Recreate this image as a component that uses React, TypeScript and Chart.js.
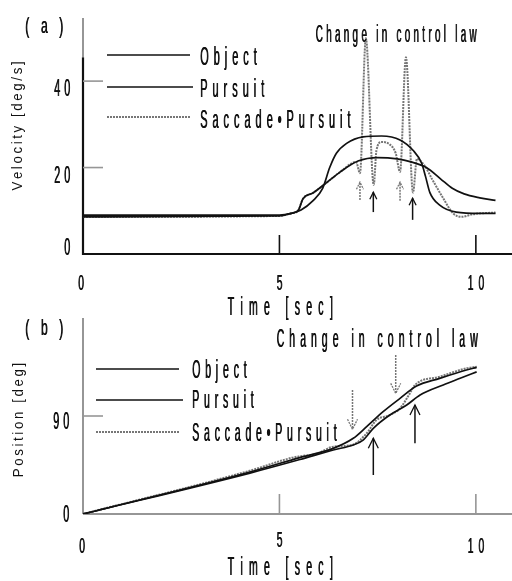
import React, { useEffect, useRef } from 'react';
import { Chart, registerables } from 'chart.js';
Chart.register(...registerables);

const FONT = '"Liberation Sans", Arial, sans-serif';

// ---------- Panel (a): velocity [deg/s] ----------
const velObjectT = [0, 5.0, 5.3, 5.55, 5.85, 6.1, 6.28, 6.45, 6.71, 7.13, 7.6, 8.07, 8.4, 8.62, 8.72, 8.83, 9.08, 9.5, 10.1, 10.5];
const velObjectV = [9.0, 9.0, 9.4, 10.2, 12.3, 15.2, 20.0, 23.3, 25.6, 27.1, 27.3, 26.4, 24.0, 21.0, 17.9, 14.2, 11.3, 9.7, 9.4, 9.4];

const velPursuitT = [0, 5.0, 5.3, 5.48, 5.6, 5.85, 6.2, 6.55, 7.0, 7.5, 8.0, 8.35, 8.74, 9.1, 9.4, 9.7, 10.1, 10.5];
const velPursuitV = [8.6, 8.8, 9.4, 10.1, 12.8, 14.1, 16.5, 19.0, 21.5, 22.3, 22.0, 21.3, 20.0, 17.4, 15.2, 13.9, 13.0, 12.4];

const velSaccadeT = [0, 5.0, 5.3, 5.48, 5.6, 5.85, 6.2, 6.55, 6.95, 7.05, 7.2, 7.4, 7.47, 7.6, 7.8, 7.96, 8.07, 8.22, 8.4, 8.5, 8.69, 8.9, 9.15, 9.42, 9.64, 9.92, 10.5];
const velSaccadeV = [8.6, 8.8, 9.4, 10.1, 12.8, 14.1, 16.5, 19.0, 21.3, 18.7, 49.9, 16.0, 24.0, 25.9, 25.4, 23.3, 19.0, 45.5, 14.2, 22.0, 20.5, 17.1, 13.2, 9.4, 8.6, 9.2, 9.6];

const velTicksX = [0, 5, 10];
const velTicksY = [0, 20, 40];
const velRangeX = [0, 10.92];
const velRangeY = [0, 54.6];
const velAxisSolidTop = 45.5;

const velArrowX = [7.05, 8.07, 7.39, 8.39];
const velArrowFrom = [12.5, 12.3, 9.7, 7.9];
const velArrowTo = [16.6, 16.6, 14.3, 12.9];
const velArrowGray = [true, true, false, false];

// ---------- Panel (b): position [deg] ----------
const posObjectT = [0, 4.25, 5.52, 6.37, 6.88, 7.22, 7.64, 8.07, 8.49, 9.08, 9.76, 10.02];
const posObjectV = [0, 38.6, 51.8, 60.3, 69.5, 80.2, 94.0, 106.2, 117.5, 124.6, 132.2, 134.7];

const posPursuitT = [0, 4.25, 5.52, 6.37, 6.88, 7.13, 7.39, 7.81, 8.24, 8.58, 9.17, 9.6, 10.02];
const posPursuitV = [0, 37.6, 50.0, 58.8, 63.4, 67.9, 78.7, 90.9, 100.1, 109.3, 118.5, 124.6, 130.5];

const posSaccadeT = [0, 4.25, 5.3, 5.52, 5.95, 6.37, 6.85, 7.22, 7.47, 7.81, 8.07, 8.32, 8.45, 9.08, 9.76, 10.02];
const posSaccadeV = [0, 39.8, 51.5, 53.0, 55.3, 61.8, 63.4, 74.1, 86.3, 90.9, 97.0, 110.8, 118.5, 126.1, 133.8, 135.2];

const posTicksX = [0, 5, 10];
const posTicksY = [0, 90];
const posRangeX = [0, 10.92];
const posRangeY = [0, 180];

const posArrowX = [6.86, 7.96, 7.39, 8.45];
const posArrowFrom = [113.9, 146.0, 35.8, 64.9];
const posArrowTo = [77.8, 110.8, 69.5, 100.1];
const posArrowGray = [true, true, false, false];

const seriesNames = ['Object', 'Pursuit', 'Saccade•Pursuit'];
const annotationText = 'Change in control law';
const xTitle = 'Time [sec]';
const velYTitle = 'Velocity [deg/s]';
const posYTitle = 'Position [deg]';

const BLACK = '#111';
const GRAY = '#767676';
const AXGRAY = '#969696';

type TOpt = { size: number; sx: number; sp: number; align?: 'left' | 'center' | 'right'; color?: string; bold?: number };

function drawText(ctx: CanvasRenderingContext2D, text: string, x: number, y: number, o: TOpt) {
  ctx.save();
  ctx.font = `${o.size}px ${FONT}`;
  ctx.textBaseline = 'alphabetic';
  ctx.textAlign = 'left';
  const chars = Array.from(text);
  const widths = chars.map((c) => ctx.measureText(c).width * o.sx);
  const total = widths.reduce((a, b) => a + b, 0) + (chars.length - 1) * o.sp;
  let x0 = x;
  if (o.align === 'center') x0 = x - total / 2;
  else if (o.align === 'right') x0 = x - total;
  ctx.fillStyle = o.color || BLACK;
  const b = o.bold === undefined ? 0.5 : o.bold;
  let cur = x0;
  chars.forEach((c, i) => {
    ctx.save();
    ctx.translate(cur, y);
    ctx.scale(o.sx, 1);
    ctx.fillText(c, 0, 0);
    if (b > 0) ctx.fillText(c, b / o.sx, 0);
    ctx.restore();
    cur += widths[i] + o.sp;
  });
  ctx.restore();
}

function line(ctx: CanvasRenderingContext2D, x1: number, y1: number, x2: number, y2: number, color: string, w: number, dash: number[] = []) {
  ctx.save();
  ctx.strokeStyle = color;
  ctx.lineWidth = w;
  ctx.setLineDash(dash);
  ctx.beginPath();
  ctx.moveTo(x1, y1);
  ctx.lineTo(x2, y2);
  ctx.stroke();
  ctx.restore();
}

function arrow(ctx: CanvasRenderingContext2D, x: number, yTail: number, yHead: number, gray: boolean, hw: number, hl: number) {
  const color = gray ? GRAY : BLACK;
  const dash = gray ? [2, 1] : [];
  line(ctx, x, yTail, x, yHead, color, 1.5, dash);
  const dir = yHead > yTail ? -1 : 1;
  ctx.save();
  ctx.strokeStyle = color;
  ctx.lineWidth = 1.3;
  ctx.setLineDash(dash);
  ctx.beginPath();
  ctx.moveTo(x - hw, yHead + dir * hl);
  ctx.lineTo(x, yHead);
  ctx.lineTo(x + hw, yHead + dir * hl);
  ctx.stroke();
  ctx.restore();
}

const toXY = (t: number[], v: number[]) => t.map((x, i) => ({ x, y: v[i] }));

function datasets(oT: number[], oV: number[], pT: number[], pV: number[], sT: number[], sV: number[]) {
  const base = { pointRadius: 0, cubicInterpolationMode: 'monotone' as const, fill: false };
  return [
    { ...base, label: seriesNames[0], data: toXY(oT, oV), borderColor: BLACK, borderWidth: 1.7 },
    { ...base, label: seriesNames[1], data: toXY(pT, pV), borderColor: BLACK, borderWidth: 1.7 },
    { ...base, label: seriesNames[2], data: toXY(sT, sV), borderColor: GRAY, borderWidth: 2, borderDash: [2, 1] },
  ];
}

function velPlugin(off: number) {
  const G = (y: number) => y - off;
  return {
    id: 'velDecor',
    beforeDatasetsDraw(chart: any) {
      const ctx = chart.ctx as CanvasRenderingContext2D;
      const xs = chart.scales.x, ys = chart.scales.y;
      const x0 = xs.getPixelForValue(0);
      const y0 = ys.getPixelForValue(0);
      const yTop = ys.getPixelForValue(velRangeY[1]);
      const ySolid = ys.getPixelForValue(velAxisSolidTop);
      line(ctx, x0, yTop, x0, ySolid, AXGRAY, 2);
      line(ctx, x0, ySolid, x0, y0 + 1, BLACK, 2.2);
      line(ctx, x0, y0, chart.chartArea.right, y0, BLACK, 2);
      velTicksX.forEach((t) => {
        if (t === 0) return;
        const px = xs.getPixelForValue(t);
        line(ctx, px, y0, px, y0 - 19, BLACK, 1.6);
      });
      velTicksY.forEach((v) => {
        if (v === 0) return;
        const py = ys.getPixelForValue(v);
        line(ctx, x0, py, x0 + 20, py, AXGRAY, 1.6);
      });
    },
    afterDatasetsDraw(chart: any) {
      const ctx = chart.ctx as CanvasRenderingContext2D;
      const xs = chart.scales.x, ys = chart.scales.y;
      const y0 = ys.getPixelForValue(0);
      velTicksY.forEach((v) => {
        const py = ys.getPixelForValue(v);
        drawText(ctx, String(v), 70, v === 0 ? py + 1 : py + 15, { size: 23, sx: 0.47, sp: 4, align: 'right' });
      });
      velTicksX.forEach((t) => {
        const px = xs.getPixelForValue(t);
        drawText(ctx, String(t), t === 0 ? px - 2 : px, y0 + 36, { size: 22, sx: 0.47, sp: 5, align: 'center' });
      });
      drawText(ctx, xTitle, 280, G(315), { size: 25, sx: 0.42, sp: 6.3, align: 'center' });
      ctx.save();
      ctx.translate(22, G(126));
      ctx.rotate(-Math.PI / 2);
      drawText(ctx, velYTitle, 0, 0, { size: 14, sx: 0.95, sp: 2.6, align: 'center', bold: 0 });
      ctx.restore();
      drawText(ctx, '(a)', 25, G(33), { size: 22, sx: 0.55, sp: 11.6 });
      const lys = [55, 87, 117];
      const tys = [65, 97, 128];
      seriesNames.forEach((n, i) => {
        const gray = i === 2;
        line(ctx, 107, G(lys[i]), i === 1 ? 193 : 190, G(lys[i]), gray ? GRAY : BLACK, gray ? 2 : 1.6, gray ? [2, 1] : []);
        drawText(ctx, n, 200, G(tys[i]), { size: 26, sx: 0.42, sp: 5 });
      });
      drawText(ctx, annotationText, 396, G(42), { size: 23.5, sx: 0.42, sp: 3.3, align: 'center' });
      velArrowX.forEach((t, i) => {
        arrow(ctx, xs.getPixelForValue(t), ys.getPixelForValue(velArrowFrom[i]), ys.getPixelForValue(velArrowTo[i]), velArrowGray[i], 3.5, 7);
      });
    },
  };
}

function posPlugin(off: number) {
  const G = (y: number) => y - off;
  return {
    id: 'posDecor',
    beforeDatasetsDraw(chart: any) {
      const ctx = chart.ctx as CanvasRenderingContext2D;
      const xs = chart.scales.x, ys = chart.scales.y;
      const x0 = xs.getPixelForValue(0);
      const y0 = ys.getPixelForValue(0);
      const yTop = ys.getPixelForValue(posRangeY[1]);
      line(ctx, x0, yTop, x0, y0, AXGRAY, 2);
      line(ctx, x0, y0, chart.chartArea.right, y0, AXGRAY, 2);
      posTicksX.forEach((t) => {
        if (t === 0) return;
        const px = xs.getPixelForValue(t);
        line(ctx, px, y0, px, y0 - 20, AXGRAY, 1.6);
      });
      posTicksY.forEach((v) => {
        if (v === 0) return;
        const py = ys.getPixelForValue(v);
        line(ctx, x0, py, x0 + 20, py, AXGRAY, 1.6);
      });
    },
    afterDatasetsDraw(chart: any) {
      const ctx = chart.ctx as CanvasRenderingContext2D;
      const xs = chart.scales.x, ys = chart.scales.y;
      const y0 = ys.getPixelForValue(0);
      posTicksY.forEach((v) => {
        const py = ys.getPixelForValue(v);
        drawText(ctx, String(v), 69, v === 0 ? py + 8 : py + 13, { size: 23, sx: 0.47, sp: 4, align: 'right' });
      });
      posTicksX.forEach((t) => {
        const px = xs.getPixelForValue(t);
        drawText(ctx, String(t), t === 0 ? px - 1 : px, y0 + (t === 5 ? 33 : 39), { size: 22, sx: 0.47, sp: 5, align: 'center' });
      });
      drawText(ctx, xTitle, 280, G(575), { size: 25, sx: 0.42, sp: 6.3, align: 'center' });
      ctx.save();
      ctx.translate(23, G(420));
      ctx.rotate(-Math.PI / 2);
      drawText(ctx, posYTitle, 0, 0, { size: 14, sx: 0.95, sp: 2.6, align: 'center', bold: 0 });
      ctx.restore();
      drawText(ctx, '(b)', 25, G(335), { size: 22, sx: 0.55, sp: 11.6 });
      const lys = [369, 400, 432];
      const tys = [378, 408, 441];
      seriesNames.forEach((n, i) => {
        const gray = i === 2;
        line(ctx, 96, G(lys[i]), i === 1 ? 183 : 179, G(lys[i]), gray ? GRAY : BLACK, gray ? 2 : 1.6, gray ? [2, 1] : []);
        drawText(ctx, n, 192, G(tys[i]), { size: 25, sx: 0.42, sp: 4.8 });
      });
      drawText(ctx, annotationText, 377, G(347), { size: 25, sx: 0.42, sp: 5, align: 'center' });
      posArrowX.forEach((t, i) => {
        arrow(ctx, xs.getPixelForValue(t), ys.getPixelForValue(posArrowFrom[i]), ys.getPixelForValue(posArrowTo[i]), posArrowGray[i], 5, 10);
      });
    },
  };
}

function makeChart(canvas: HTMLCanvasElement, ds: any[], rx: number[], ry: number[], padding: any, plugin: any) {
  return new Chart(canvas, {
    type: 'line',
    data: { datasets: ds },
    options: {
      animation: false,
      responsive: false,
      maintainAspectRatio: false,
      layout: { padding },
      plugins: { legend: { display: false }, tooltip: { enabled: false }, title: { display: false } },
      scales: {
        x: { type: 'linear', min: rx[0], max: rx[1], display: false },
        y: { type: 'linear', min: ry[0], max: ry[1], display: false },
      },
    } as any,
    plugins: [plugin],
  });
}

const A_TOP = 0, A_H = 320;
const B_TOP = 316, B_H = 265;

export default function App() {
  const refA = useRef<HTMLCanvasElement>(null);
  const refB = useRef<HTMLCanvasElement>(null);
  useEffect(() => {
    const ca = makeChart(
      refA.current!,
      datasets(velObjectT, velObjectV, velPursuitT, velPursuitV, velSaccadeT, velSaccadeV),
      velRangeX, velRangeY,
      { left: 83, right: 0, top: 18, bottom: A_H - 254 },
      velPlugin(A_TOP)
    );
    const cb = makeChart(
      refB.current!,
      datasets(posObjectT, posObjectV, posPursuitT, posPursuitV, posSaccadeT, posSaccadeV),
      posRangeX, posRangeY,
      { left: 83, right: 0, top: 318 - B_TOP, bottom: B_TOP + B_H - 514 },
      posPlugin(B_TOP)
    );
    return () => { ca.destroy(); cb.destroy(); };
  }, []);
  return (
    <div style={{ position: 'absolute', left: 0, top: 0, width: 512, height: 581, background: '#fff', overflow: 'hidden' }}>
      <canvas ref={refA} width={512} height={A_H} style={{ position: 'absolute', left: 0, top: A_TOP, width: 512, height: A_H }} />
      <canvas ref={refB} width={512} height={B_H} style={{ position: 'absolute', left: 0, top: B_TOP, width: 512, height: B_H }} />
    </div>
  );
}
